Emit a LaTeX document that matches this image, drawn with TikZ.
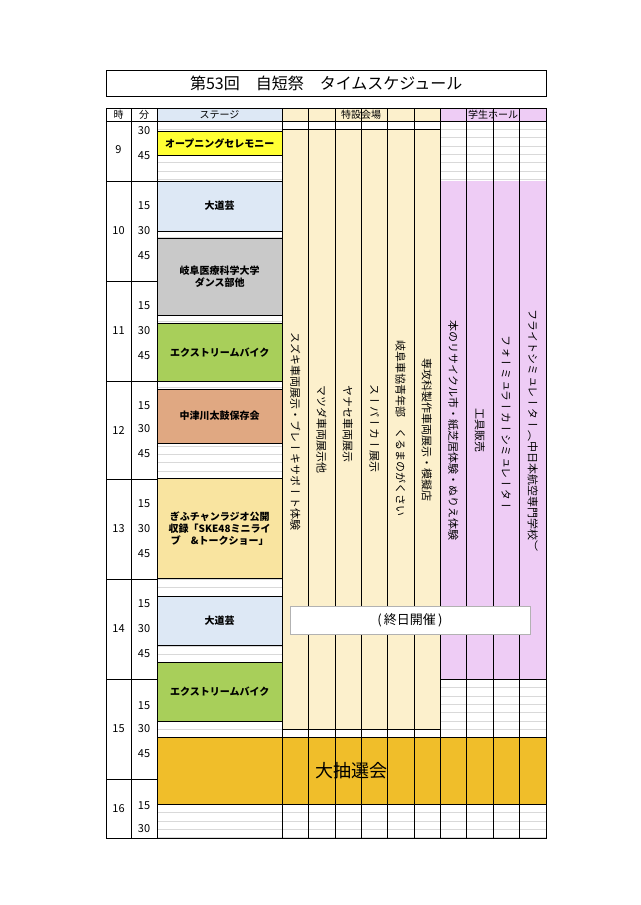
\documentclass[tikz,border=0pt]{standalone}
\usepackage{fontspec}
\setmainfont{Noto Sans CJK JP}
\newfontfamily\vjp[Vertical=RotatedGlyphs]{Noto Sans CJK JP}
\definecolor{stageblue}{HTML}{DDE8F5}
\definecolor{tokuyel}{HTML}{FCF0CC}
\definecolor{hallpink}{HTML}{EECCF5}
\definecolor{openyel}{HTML}{FFFF33}
\definecolor{dancegray}{HTML}{C9C9C9}
\definecolor{bikegreen}{HTML}{A8CF5A}
\definecolor{taikoorg}{HTML}{E0A882}
\definecolor{radioyel}{HTML}{F9E4A0}
\definecolor{lotgold}{HTML}{F0BE2A}
\begin{document}
\begin{tikzpicture}[x=1pt,y=-1pt]
%%%%%%%%%%%%%%%%%%%%%%%%%%%%%%%%%%%%%%%%%%%%%%%%%%%%%%%%%%%%%%
%styles
\tikzstyle{event}=[rectangle,draw=black,anchor=north west,minimum width=125pt,inner sep=0pt,font=\fontsize{10}{12}\selectfont\bfseries,align=center]
\tikzstyle{vlabel}=[rotate=-90,inner sep=0pt,font=\fontsize{11}{12}\selectfont\vjp]
\tikzstyle{head}=[inner sep=0pt,font=\fontsize{10}{11}\selectfont]
\tikzstyle{minute}=[inner sep=0pt,font=\fontsize{11}{12}\selectfont]
\useasboundingbox[fill=white] (0,0) rectangle (640,905);
%title
\node[draw=black,minimum width=440pt,minimum height=26pt,anchor=north west,font=\fontsize{16}{18}\selectfont] (title) at (106,70) {第53回　自短祭　タイムスケジュール};
%header
\fill[stageblue] (157,108) rectangle (282,121);
\fill[tokuyel] (282,108) rectangle (440,121);
\fill[hallpink] (440,108) rectangle (546,121);
\node[head] (hji) at (118.5,114.5) {時};
\node[head] (hfun) at (144,114.5) {分};
\node[head] (hstage) at (219.5,114.5) {ステージ};
\node[head] (htoku) at (361,114.5) {特設会場};
\node[head] (hhall) at (493,114.5) {学生ホール};
%sub rows
\foreach \i in {0,...,86}
  \draw[black!15] (157,121+\i*8.333) -- (546,121+\i*8.333);
%venue bands
\fill[tokuyel] (282,130) rectangle (440,729);
\fill[hallpink] (440,181) rectangle (546,679);
\draw (282,129) -- (440,129);
\draw (282,729) -- (440,729);
\draw (440,679) -- (546,679);
%stage events
\node[event,fill=openyel,minimum height=24pt] (open) at (157,131) {オープニングセレモニー};
\node[event,fill=stageblue,minimum height=50pt] (street1) at (157,181) {大道芸};
\node[event,fill=dancegray,minimum height=77pt] (dance) at (157,238) {岐阜医療科学大学\\ダンス部他};
\node[event,fill=bikegreen,minimum height=58pt] (bike1) at (157,323) {エクストリームバイク};
\node[event,fill=taikoorg,minimum height=54pt] (taiko) at (157,389) {中津川太鼓保存会};
\node[event,fill=radioyel,minimum height=100pt] (radio) at (157,478) {ぎふチャンラジオ公開\\収録「SKE48ミニライ\\ブ　\&トークショー」};
\node[event,fill=stageblue,minimum height=49pt] (street2) at (157,596) {大道芸};
\node[event,fill=bikegreen,minimum height=59pt] (bike2) at (157,662) {エクストリームバイク};
\node[event,fill=lotgold,minimum width=389pt,minimum height=67pt,font=\fontsize{18}{20}\selectfont] (lottery) at (157,737) {大抽選会};
%columns
\foreach \x in {131,157,282,308.3,334.7,361,387.3,413.7,440,466.5,493,519.5}
  \draw (\x,108) -- (\x,838);
\draw (106,108) rectangle (546,838);
\draw (106,121) -- (546,121);
\foreach \y in {181,281,381,479,579,679,779}
  \draw (106,\y) -- (157,\y);
%hours
\foreach \h/\y in {9/150,10/231,11/331,12/431,13/529,14/629,15/729,16/809}
  \node[minute] at (118.5,\y) {\h};
%minutes
\foreach \m/\y in {30/131,45/156,15/206,30/231,45/256,15/306,30/331,45/356,15/406,30/429,45/454,15/504,30/529,45/554,15/604,30/629,45/654,15/706,30/729,45/754,15/806,30/829}
  \node[minute] at (144,\y) {\m};
%vertical texts
\node[vlabel] (suzuki) at (295.2,431) {スズキ車両展示・ブレーキサポート体験};
\node[vlabel] (mazda) at (321.5,429) {マツダ車両展示他};
\node[vlabel] (yanase) at (347.8,424) {ヤナセ車両展示};
\node[vlabel] (super) at (374.2,428) {スーパーカー展示};
\node[vlabel] (kurumaga) at (400.5,428) {岐阜車協青年部　くるまのがくさい};
\node[vlabel] (senkou) at (426.8,430) {専攻科製作車両展示・模擬店};
\node[vlabel] (book) at (453.2,430) {本のリサイクル市・紙芝居体験・ぬりえ体験};
\node[vlabel] (tool) at (479.8,430) {工具販売};
\node[vlabel] (formula) at (506.2,423) {フォーミュラーカーシミュレーター};
\node[vlabel] (flight) at (532.8,430) {フライトシミュレーター（中日本航空専門学校）};
%all day
\node[draw=black!30,fill=white,minimum width=240pt,minimum height=28pt,font=\fontsize{13}{15}\selectfont] (allday) at (410,620) {(\,終日開催\,)};
\end{tikzpicture}
\end{document}
